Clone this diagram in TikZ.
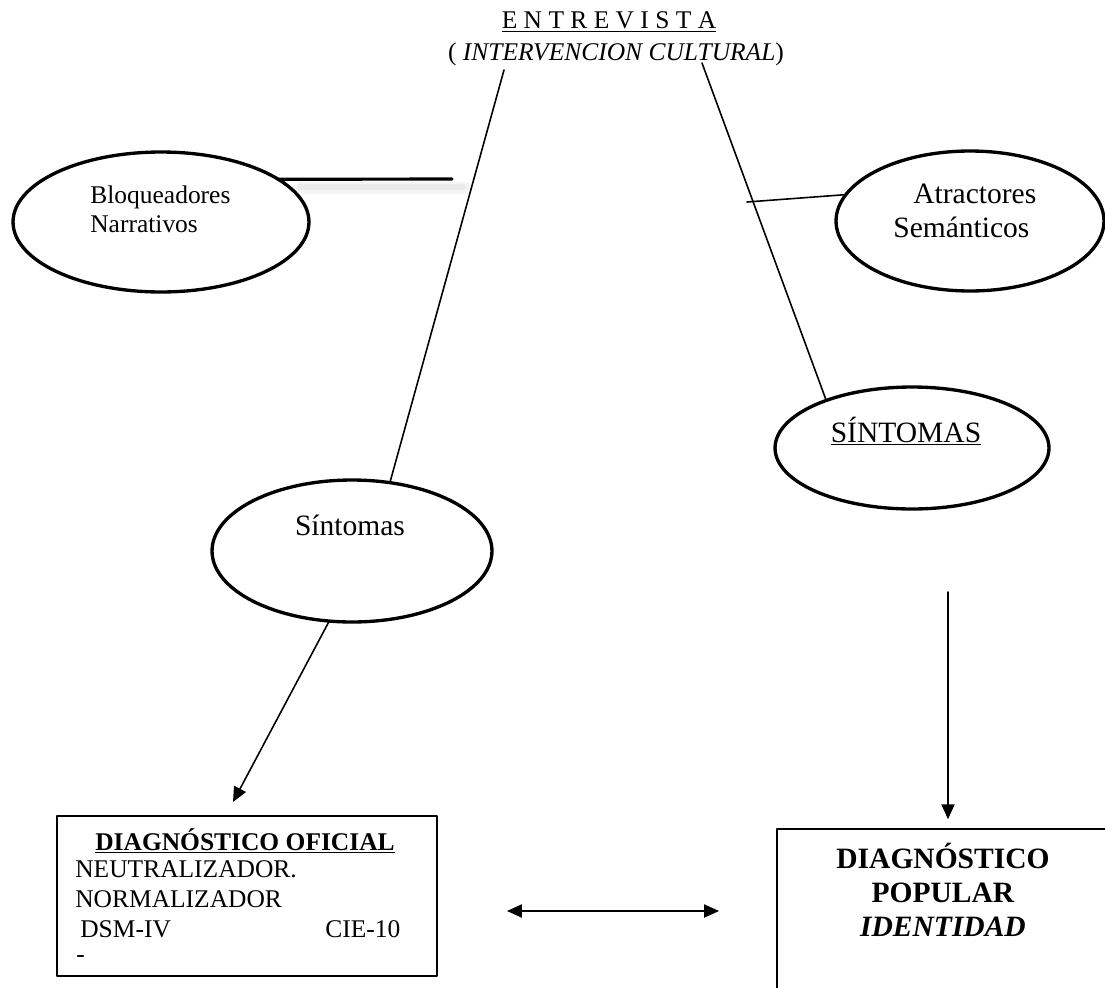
\documentclass[tikz,border=0pt]{standalone}
\usepackage{fontspec}
\setmainfont{Liberation Serif}
\usetikzlibrary{shapes.geometric,arrows.meta}
\tikzset{
	elli/.style={ellipse, draw, line width=1.9pt, inner sep=0pt, outer sep=0pt},
	caja/.style={rectangle, draw, line width=1.2pt, inner sep=0pt},
	lin/.style={line width=0.9pt},
	punta/.tip={Triangle[length=8.5pt,width=7.5pt]},
	chico/.style={font=\fontsize{14.5}{17.4}\selectfont, inner sep=0pt},
	grande/.style={font=\fontsize{16.8}{19.4}\selectfont, inner sep=0pt},
}
\begin{document}
\begin{tikzpicture}[x=0.02cm, y=-0.02cm, line join=round, line cap=round]
				\useasboundingbox (0,0) rectangle (1105,987);
				\clip (0,0) rectangle (1105,987);
				% titulo
				\node[chico, anchor=base] (tit1) at (609,29) {\underline{E N T R E V I S T A}};
				\node[chico, anchor=base] (tit2) at (616,60) {( \textit{INTERVENCION CULTURAL})};
				\coordinate (t1) at (504,70);
				\coordinate (t2) at (702,63);
				% elipses
				\node[elli, minimum width=5.92cm, minimum height=2.8cm] (bloq) at (161,222) {};
				\node[elli, minimum width=5.36cm, minimum height=2.8cm] (atr) at (970,221) {};
				\node[elli, minimum width=5.48cm, minimum height=2.44cm] (SINT) at (912,448) {};
				\node[elli, minimum width=5.6cm, minimum height=2.84cm] (sint) at (352,551) {};
				\node[chico, anchor=base west] (bloq1) at (90,203) {Bloqueadores};
				\node[chico, anchor=base west] (bloq2) at (90,232) {Narrativos};
				\node[grande, anchor=base west] (atr1) at (913,203) {Atractores};
				\node[grande, anchor=base west] (atr2) at (893,237) {Semánticos};
				\node[grande, anchor=base] (SINT1) at (906,442) {\underline{SÍNTOMAS}};
				\node[grande, anchor=base] (sint1) at (350,535) {Síntomas};
				% cajas
				\node[caja, minimum width=7.6cm, minimum height=3.2cm] (ofic) at (247,896) {};
				\node[caja, minimum width=8cm, minimum height=4cm] (pop) at (977,929) {};
				\node[chico, anchor=base] (ofic1) at (245,850) {\textbf{\underline{DIAGNÓSTICO OFICIAL}}};
				\foreach \txt/\x/\y [count=\i from 2] in {NEUTRALIZADOR./75/877, NORMALIZADOR/75/907, DSM-IV/80/937, CIE-10/325/937, -/76/962}
					\node[chico, anchor=base west] (ofic\i) at (\x,\y) {\txt};
				\node[grande, anchor=base] (pop1) at (943,868) {\textbf{DIAGNÓSTICO}};
				\node[grande, anchor=base] (pop2) at (943,902) {\textbf{POPULAR}};
				\node[grande, anchor=base] (pop3) at (943,936) {\textbf{\textit{IDENTIDAD}}};
				% lineas
				\draw[line width=7pt, black!4] (302,188)--(466,188);
				\draw[line width=3pt, black!8] (300,187)--(464,187);
				\draw[lin] (t1)--(sint.61);
				\draw[lin] (t2)--(SINT.151);
				\coordinate (b2) at (452,179);
				\draw[line width=1.8pt] (bloq.20)--(b2);
				\coordinate (a1) at (747,202);
				\draw[lin] (a1)--(atr.168);
				\coordinate (o1) at (233,802);
				\draw[lin, -punta] (sint.252)--(o1);
				\coordinate (v1) at (948,592);
				\draw[lin, -punta, shorten >=5pt] (v1)--(v1 |- pop.north);
				\coordinate (d1) at (507,911);
				\coordinate (d2) at (719,911);
				\draw[lin, punta-punta] (d1)--(d2);
\end{tikzpicture}
\end{document}
